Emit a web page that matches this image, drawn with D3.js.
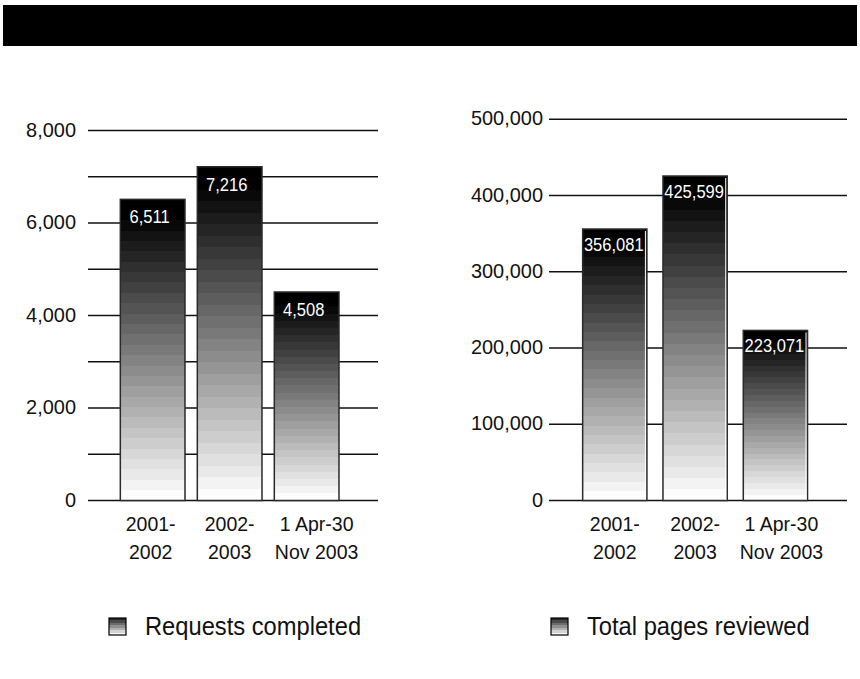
<!DOCTYPE html>
<html>
<head>
<meta charset="utf-8">
<script src="https://cdn.jsdelivr.net/npm/d3@7"></script>
<style>
  html, body { margin: 0; padding: 0; background: #fff; }
  svg { display: block; font-family: "Liberation Sans", Arial, sans-serif; }
</style>
</head>
<body>
<svg id="chart" width="860" height="679"></svg>
<script>
// Categories (two-line axis labels)
const categories = ["2001-2002", "2002-2003", "1 Apr-30 Nov 2003"];
const categoryLines = [["2001-", "2002"], ["2002-", "2003"], ["1 Apr-30", "Nov 2003"]];

// Series values
const requestsCompleted = [6511, 7216, 4508];
const pagesReviewed = [356081, 425599, 223071];

// Tick / gridline values
const requestTickLabels = [0, 2000, 4000, 6000, 8000];
const requestGridValues = [0, 1000, 2000, 3000, 4000, 5000, 6000, 7000, 8000];
const pageTickLabels = [0, 100000, 200000, 300000, 400000, 500000];

// Legend entries
const legendLabels = ["Requests completed", "Total pages reviewed"];

const svg = d3.select("#chart");
const fmt = d3.format(",");

// Places text at (x, y) and narrows it horizontally to mimic a condensed face
function placeCondensed(sel, xf, yf, sx) {
  sel.attr("x", 0).attr("y", 0)
    .attr("transform", (d, i) => `translate(${xf(d, i)},${yf(d, i)}) scale(${sx},1)`);
  return sel;
}

// Black banner across the top
svg.append("rect")
  .attr("x", 3).attr("y", 5).attr("width", 854).attr("height", 41)
  .attr("fill", "#000");

// Stepped white-to-black fill shared by every bar (bottom white, top black)
const defs = svg.append("defs");
const BANDS = 29;
const barGrad = defs.append("linearGradient")
  .attr("id", "barGrad")
  .attr("x1", 0).attr("y1", 1).attr("x2", 0).attr("y2", 0);
for (let i = 0; i < BANDS; i++) {
  const lvl = Math.max(0, Math.round(252 * (1 - i / 27)));
  const c = d3.rgb(lvl, lvl, lvl).formatHex();
  barGrad.append("stop").attr("offset", i / BANDS).attr("stop-color", c);
  barGrad.append("stop").attr("offset", (i + 1) / BANDS).attr("stop-color", c);
}

// Smaller stepped fill for legend swatches
const LEG_BANDS = 7;
const legGrad = defs.append("linearGradient")
  .attr("id", "legGrad")
  .attr("x1", 0).attr("y1", 1).attr("x2", 0).attr("y2", 0);
for (let i = 0; i < LEG_BANDS; i++) {
  const lvl = Math.round(245 - 205 * i / (LEG_BANDS - 1));
  const c = d3.rgb(lvl, lvl, lvl).formatHex();
  legGrad.append("stop").attr("offset", i / LEG_BANDS).attr("stop-color", c);
  legGrad.append("stop").attr("offset", (i + 1) / LEG_BANDS).attr("stop-color", c);
}

function drawPanel(opts) {
  const g = svg.append("g");
  const x = d3.scaleBand().domain(categories)
    .range(opts.xRange).paddingInner(opts.pad).paddingOuter(opts.pad);
  const y = d3.scaleLinear().domain(opts.yDomain).range(opts.yRange);
  const cx = i => x(categories[i]) + x.bandwidth() / 2;

  // Gridlines
  g.selectAll("line.grid").data(opts.gridValues).join("line")
    .attr("class", "grid")
    .attr("x1", opts.gridX[0]).attr("x2", opts.gridX[1])
    .attr("y1", d => y(d)).attr("y2", d => y(d))
    .attr("stroke", "#111").attr("stroke-width", 1.5);

  // Y tick labels
  placeCondensed(
    g.selectAll("text.ytick").data(opts.tickValues).join("text")
      .attr("class", "ytick")
      .attr("text-anchor", "end")
      .attr("font-size", 21).attr("fill", "#111")
      .text(d => fmt(d)),
    () => opts.tickX, d => y(d) + 6, 0.95);

  // Bars
  const bars = g.selectAll("g.bar").data(opts.values).join("g").attr("class", "bar");
  bars.append("rect")
    .attr("x", (d, i) => x(categories[i]))
    .attr("y", d => y(d))
    .attr("width", x.bandwidth())
    .attr("height", d => y(0) - y(d))
    .attr("fill", "url(#barGrad)")
    .attr("stroke", "#2a2a2a").attr("stroke-width", 1.5);

  if (opts.edgeHighlight) {
    bars.append("line")
      .attr("x1", (d, i) => x(categories[i]) + x.bandwidth() - 1.5)
      .attr("x2", (d, i) => x(categories[i]) + x.bandwidth() - 1.5)
      .attr("y1", d => y(d) + 2).attr("y2", y(0) - 1)
      .attr("stroke", "#fff").attr("stroke-width", 1);
  }

  // Value labels inside the top of each bar
  placeCondensed(
    bars.append("text")
      .attr("text-anchor", "middle")
      .attr("font-size", opts.labelSize).attr("fill", "#fff")
      .text(d => fmt(d)),
    (d, i) => cx(i) + opts.labelShift, d => y(d) + opts.labelOffset, opts.labelScale);

  // Category labels (two lines)
  categoryLines.forEach((lines, i) => {
    placeCondensed(
      g.selectAll(null).data(lines).join("text")
        .attr("text-anchor", "middle")
        .attr("font-size", 21).attr("fill", "#111")
        .text(d => d),
      () => cx(i) + opts.catNudge[i], (d, j) => 531 + j * 28, 0.93);
  });

  // Legend
  const lg = g.append("g").attr("transform", `translate(${opts.legendX},618)`);
  lg.append("rect").attr("x", 0).attr("y", 0).attr("width", 17).attr("height", 17)
    .attr("fill", "url(#legGrad)").attr("stroke", "#000").attr("stroke-width", 1.2);
  placeCondensed(
    lg.append("text").datum(opts.legend)
      .attr("font-size", 25.5).attr("fill", "#111")
      .text(d => d),
    () => opts.legendTextDx, () => 17, 0.93);
}

drawPanel({
  values: requestsCompleted,
  xRange: [108, 351.3], pad: 0.16,
  yDomain: [0, 8000], yRange: [500.5, 130.5],
  gridValues: requestGridValues, gridX: [88, 378],
  tickValues: requestTickLabels, tickX: 76,
  labelSize: 18, labelScale: 0.92, labelOffset: 24, labelShift: -3,
  catNudge: [-2, 0, 10],
  edgeHighlight: false,
  legendX: 109, legendTextDx: 36, legend: legendLabels[0]
});

drawPanel({
  values: pagesReviewed,
  xRange: [566.6, 823.6], pad: 0.2,
  yDomain: [0, 500000], yRange: [500.5, 119.3],
  gridValues: pageTickLabels, gridX: [549, 847],
  tickValues: pageTickLabels, tickX: 543,
  labelSize: 19, labelScale: 0.87, labelOffset: 22, labelShift: -1,
  catNudge: [0, 0, 6],
  edgeHighlight: true,
  legendX: 551, legendTextDx: 36, legend: legendLabels[1]
});
</script>
</body>
</html>
